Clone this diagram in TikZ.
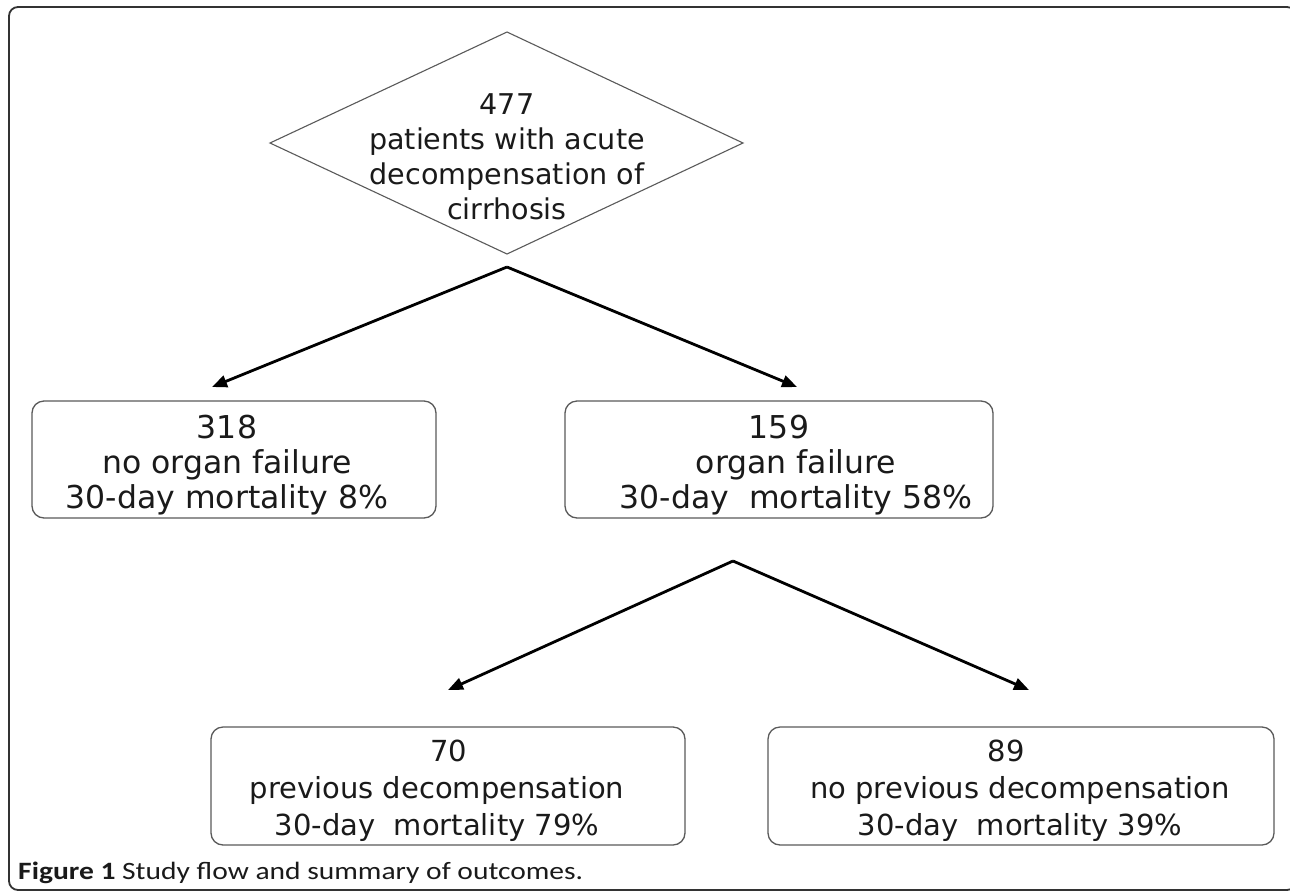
\documentclass[tikz,border=0pt]{standalone}
\usepackage{fontspec}
\setmainfont{DejaVu Sans}
\newfontfamily\capfont{Carlito}
\usetikzlibrary{arrows.meta}
\definecolor{txt}{HTML}{1A1A1A}
\definecolor{boxline}{HTML}{5A5A5A}
\definecolor{frameline}{HTML}{333333}
\tikzset{
  box/.style={draw=boxline, line width=1.3pt, rounded corners=12pt, fill=none, inner sep=0pt},
  btext/.style={text=txt, align=center, inner sep=0pt, font=\fontsize{31.5}{35}\selectfont},
  ltext/.style={text=txt, align=center, inner sep=0pt, font=\fontsize{29}{37}\selectfont},
  dtext/.style={text=txt, align=center, inner sep=0pt, font=\fontsize{28.6}{35}\selectfont},
  conn/.style={draw=black, line width=2.8pt, -{Triangle[length=15pt,width=12pt]}},
}
\begin{document}
\begin{tikzpicture}[x=1pt, y=-1pt]
\useasboundingbox (0,0) rectangle (1290,892);
\fill[white] (0,0) rectangle (1290,892);
% outer frame
\draw[frameline, line width=1.8pt, rounded corners=9pt] (9,7) rectangle (1296,890);
% diamond
\coordinate (dT) at (507,32);
\coordinate (dR) at (743,143);
\coordinate (dB) at (507,254);
\coordinate (dL) at (270,143);
\draw[draw=boxline, line width=1.1pt] (dT) -- (dR) -- (dB) -- (dL) -- cycle;
\node[dtext] (dia) at (507,157) {477\\patients with acute\\decompensation of\\cirrhosis};
% level 1 boxes
\node[box, minimum width=404pt, minimum height=117pt] (b318) at (234,459.5) {};
\node[btext] (t318) at (227,465) {318\\no organ failure\\30-day mortality 8\%};
\node[box, minimum width=428pt, minimum height=117pt] (b159) at (779,459.5) {};
\node[btext] (t159) at (796,465) {159\hspace*{34pt}\\organ failure\\30-day\ \ mortality 58\%};
% level 2 boxes
\node[box, minimum width=474pt, minimum height=118pt] (b70) at (448,786) {};
\node[ltext] (t70) at (437,791) {\hspace*{24pt}70\\previous decompensation\hspace*{32pt}\\30-day\ \ mortality 79\%};
\node[box, minimum width=506pt, minimum height=118pt] (b89) at (1021,786) {};
\node[ltext] (t89) at (1020,791) {89\hspace*{28pt}\\no previous decompensation\hspace*{12pt}\\30-day\ \ mortality 39\%};
% connectors
\coordinate (a1) at (507,267);
\coordinate (a1l) at (212,387);
\coordinate (a1r) at (797,387);
\draw[conn] (a1) -- (a1l);
\draw[conn] (a1) -- (a1r);
\coordinate (a2) at (733,561);
\coordinate (a2l) at (448,690);
\coordinate (a2r) at (1029,690);
\draw[conn] (a2) -- (a2l);
\draw[conn] (a2) -- (a2r);
% caption
\node[anchor=base west, inner sep=0pt, text=txt] (cap) at (18,879) {\resizebox{565pt}{17.5pt}{\capfont\fontsize{23}{26}\selectfont\textbf{Figure 1} Study flow and summary of outcomes.}};
\end{tikzpicture}
\end{document}
